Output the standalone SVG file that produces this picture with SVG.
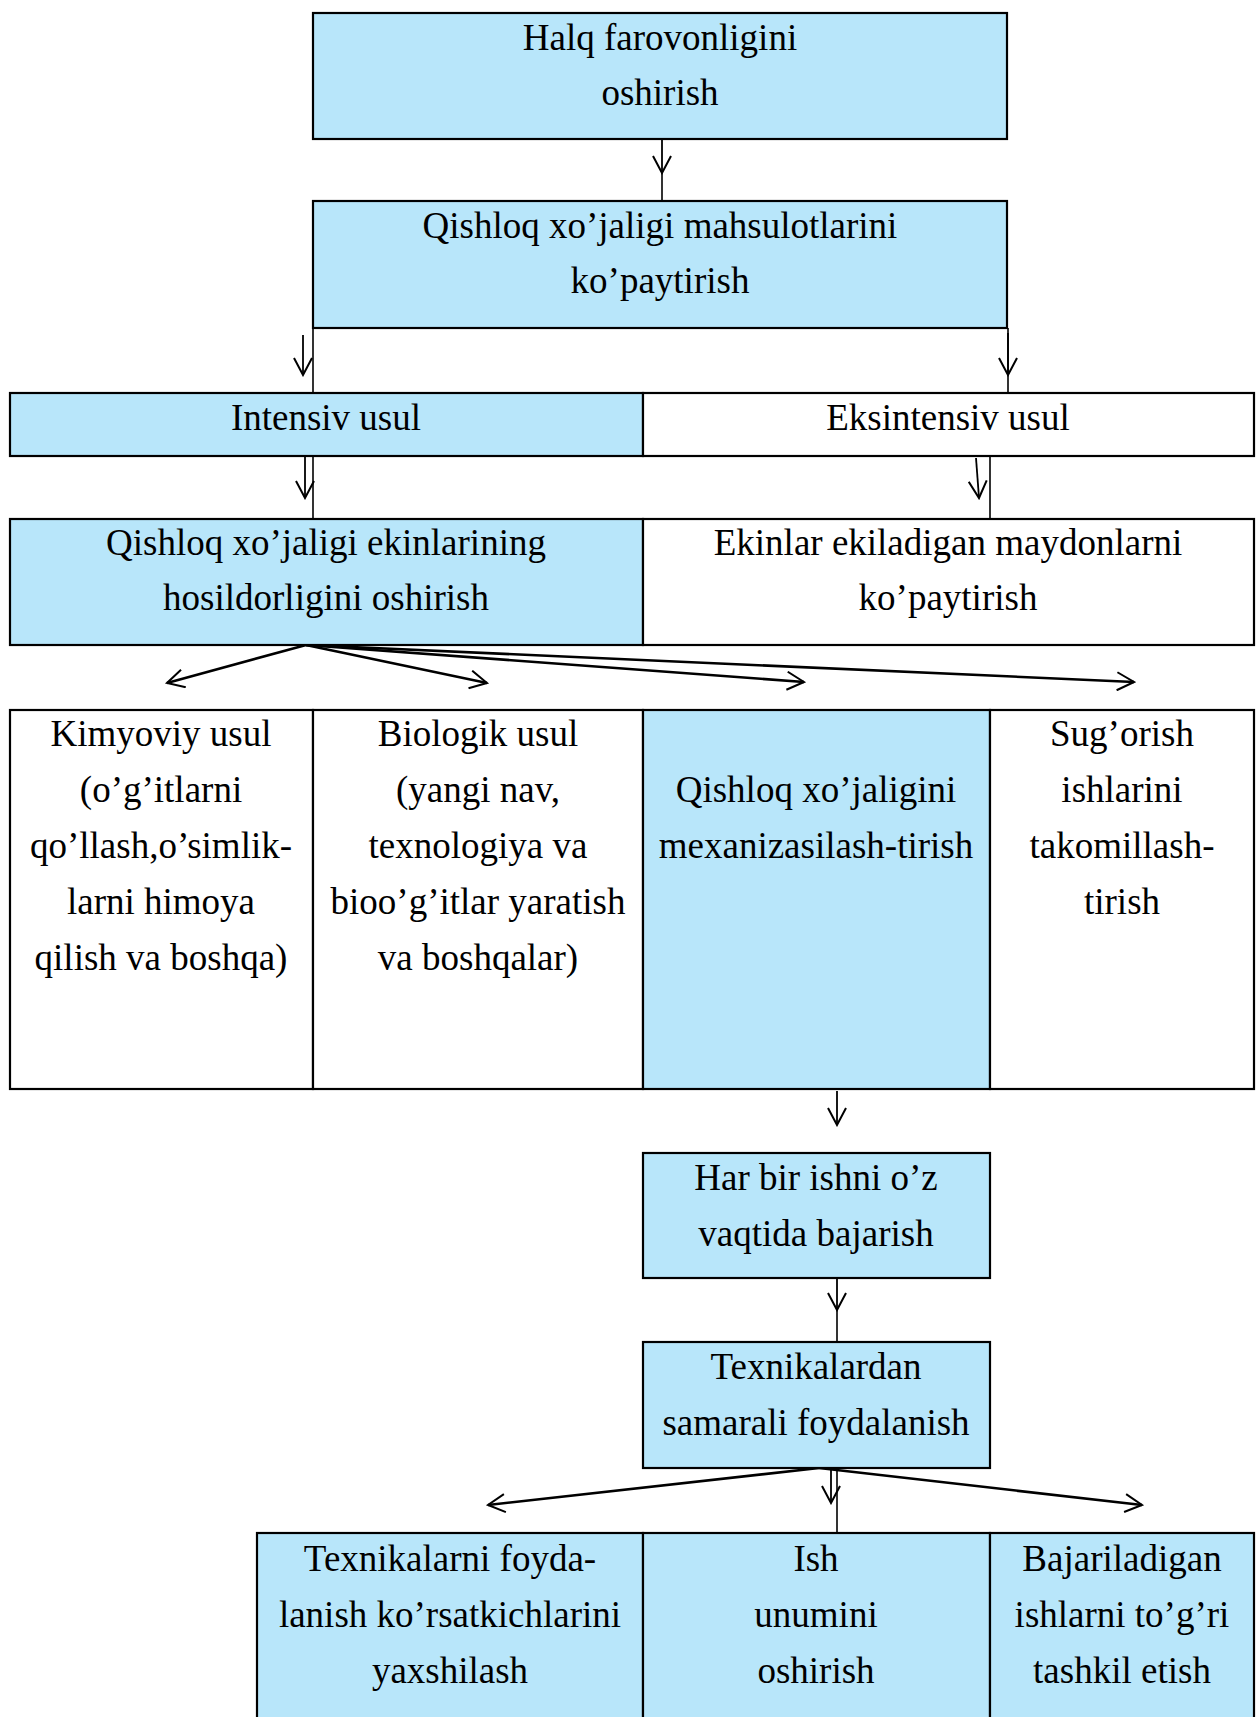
<svg xmlns="http://www.w3.org/2000/svg" width="1256" height="1717" viewBox="0 0 1256 1717">
<defs>
<style>
.b{fill:#B8E6FA;stroke:#000;stroke-width:2.2}
.w{fill:#fff;stroke:#000;stroke-width:2.2}
.t{font-family:"Liberation Serif","Times New Roman",serif;font-size:37px;fill:#000;text-anchor:middle}
.c{fill:none;stroke:#000;stroke-width:1.6}
.a{fill:none;stroke:#000;stroke-width:1.8;marker-end:url(#ah)}
.f{fill:none;stroke:#000;stroke-width:2.6;marker-end:url(#ah)}
</style>
<marker id="ah" viewBox="0 0 20 20" refX="18" refY="10" markerWidth="20" markerHeight="20" markerUnits="userSpaceOnUse" orient="auto">
<path d="M1,1 L18,10 L1,19" fill="none" stroke="#000" stroke-width="2"/>
</marker>
</defs>
<rect width="1256" height="1717" fill="#fff"/>
<g id="connectors">
<path class="a" d="M662,139 V173"/>
<path class="c" d="M662,173 V201"/>
<path class="c" d="M313,328 V393"/>
<path class="a" d="M303,335 V375"/>
<path class="c" d="M1008,328 V393"/>
<path class="a" d="M1008,333 V375"/>
<path class="c" d="M313,456 V519"/>
<path class="a" d="M305,456 V498"/>
<path class="c" d="M990,456 V519"/>
<path class="a" d="M976,458 L979,498"/>
<path class="f" d="M306,645 L167,683"/>
<path class="f" d="M306,645 L487,683"/>
<path class="f" d="M306,645 L804,682"/>
<path class="f" d="M306,645 L1134,682"/>
<path class="a" d="M837,1091 V1125"/>
<path class="a" d="M837,1278 V1310"/>
<path class="c" d="M837,1310 V1342"/>
<path class="f" d="M819,1468 L488,1505"/>
<path class="f" d="M819,1468 L1142,1505"/>
<path class="a" d="M831,1468 V1503"/>
<path class="c" d="M837,1468 V1533"/>
</g>
<g id="n1"><rect class="b" x="313" y="13" width="694" height="126"/>
<text class="t" x="660" y="50">Halq farovonligini</text><text class="t" x="660" y="105">oshirish</text></g>
<g id="n2"><rect class="b" x="313" y="201" width="694" height="127"/>
<text class="t" x="660" y="238">Qishloq xo’jaligi mahsulotlarini</text><text class="t" x="660" y="293">ko’paytirish</text></g>
<g id="n3"><rect class="b" x="10" y="393" width="633" height="63"/>
<text class="t" x="326" y="430">Intensiv usul</text></g>
<g id="n4"><rect class="w" x="643" y="393" width="611" height="63"/>
<text class="t" x="948" y="430">Eksintensiv usul</text></g>
<g id="n5"><rect class="b" x="10" y="519" width="633" height="126"/>
<text class="t" x="326" y="555">Qishloq xo’jaligi ekinlarining</text><text class="t" x="326" y="610">hosildorligini oshirish</text></g>
<g id="n6"><rect class="w" x="643" y="519" width="611" height="126"/>
<text class="t" x="948" y="555">Ekinlar ekiladigan maydonlarni</text><text class="t" x="948" y="610">ko’paytirish</text></g>
<g id="n7"><rect class="w" x="10" y="710" width="303" height="379"/>
<text class="t" x="161" y="746">Kimyoviy usul</text><text class="t" x="161" y="802">(o’g’itlarni</text><text class="t" x="161" y="858">qo’llash,o’simlik-</text><text class="t" x="161" y="914">larni himoya</text><text class="t" x="161" y="970">qilish va boshqa)</text></g>
<g id="n8"><rect class="w" x="313" y="710" width="330" height="379"/>
<text class="t" x="478" y="746">Biologik usul</text><text class="t" x="478" y="802">(yangi nav,</text><text class="t" x="478" y="858">texnologiya va</text><text class="t" x="478" y="914">bioo’g’itlar yaratish</text><text class="t" x="478" y="970">va boshqalar)</text></g>
<g id="n9"><rect class="b" x="643" y="710" width="347" height="379"/>
<text class="t" x="816" y="802">Qishloq xo’jaligini</text><text class="t" x="816" y="858">mexanizasilash-tirish</text></g>
<g id="n10"><rect class="w" x="990" y="710" width="264" height="379"/>
<text class="t" x="1122" y="746">Sug’orish</text><text class="t" x="1122" y="802">ishlarini</text><text class="t" x="1122" y="858">takomillash-</text><text class="t" x="1122" y="914">tirish</text></g>
<g id="n11"><rect class="b" x="643" y="1153" width="347" height="125"/>
<text class="t" x="816" y="1190">Har bir ishni o’z</text><text class="t" x="816" y="1246">vaqtida bajarish</text></g>
<g id="n12"><rect class="b" x="643" y="1342" width="347" height="126"/>
<text class="t" x="816" y="1379">Texnikalardan</text><text class="t" x="816" y="1435">samarali foydalanish</text></g>
<g id="n13"><rect class="b" x="257" y="1533" width="386" height="200"/>
<text class="t" x="450" y="1571">Texnikalarni foyda-</text><text class="t" x="450" y="1627">lanish ko’rsatkichlarini</text><text class="t" x="450" y="1683">yaxshilash</text></g>
<g id="n14"><rect class="b" x="643" y="1533" width="347" height="200"/>
<text class="t" x="816" y="1571">Ish</text><text class="t" x="816" y="1627">unumini</text><text class="t" x="816" y="1683">oshirish</text></g>
<g id="n15"><rect class="b" x="990" y="1533" width="264" height="200"/>
<text class="t" x="1122" y="1571">Bajariladigan</text><text class="t" x="1122" y="1627">ishlarni to’g’ri</text><text class="t" x="1122" y="1683">tashkil etish</text></g>
</svg>
